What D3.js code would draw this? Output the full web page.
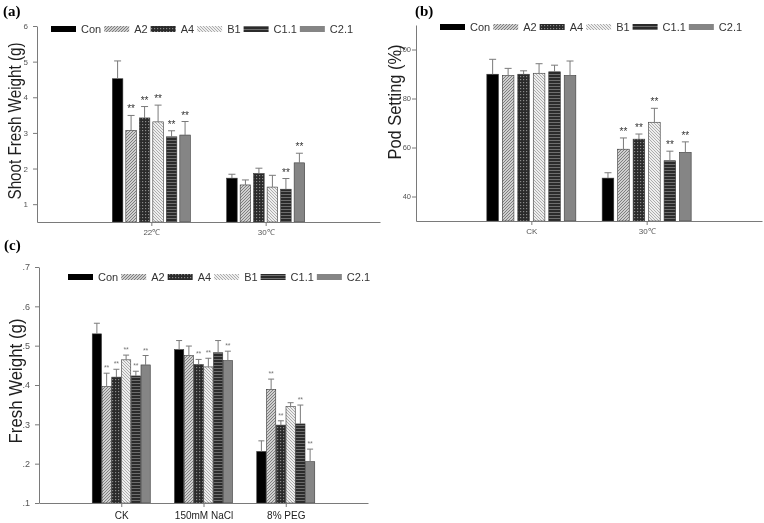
<!DOCTYPE html>
<html>
<head>
<meta charset="utf-8">
<script src="https://cdn.jsdelivr.net/npm/d3@7"></script>
<style>
body { margin: 0; background: #fff; }
svg { display: block; font-family: "Liberation Sans", Arial, sans-serif; will-change: transform; }
</style>
</head>
<body>
<svg id="chart" width="764" height="523"></svg>
<script>
// series shown in every panel
var seriesNames = ["Con", "A2", "A4", "B1", "C1.1", "C2.1"];

// (a) shoot fresh weight
var shootGroups = ["22\u2103", "30\u2103"];
var shootMean = [[4.52, 3.07, 3.42, 3.31, 2.89, 2.94], [1.73, 1.54, 1.86, 1.48, 1.42, 2.16]];
var shootErr = [[0.50, 0.42, 0.32, 0.47, 0.17, 0.38], [0.11, 0.14, 0.15, 0.33, 0.30, 0.27]];
var shootSig = [[0, 1, 1, 1, 1, 1], [0, 0, 0, 0, 1, 1]];
var shootTicks = [1, 2, 3, 4, 5, 6];

// (b) pod setting
var podGroups = ["CK", "30\u2103"];
var podMean = [[89.9, 89.4, 89.9, 90.3, 90.9, 89.4], [47.5, 59.3, 63.4, 70.3, 54.6, 58.0]];
var podErr = [[6.1, 2.9, 1.4, 3.9, 2.7, 5.9], [2.2, 4.6, 2.1, 5.7, 3.9, 4.3]];
var podSig = [[0, 0, 0, 0, 0, 0], [0, 1, 1, 1, 1, 1]];
var podTicks = [40, 60, 80, 100];

// (c) fresh weight
var freshGroups = ["CK", "150mM NaCl", "8% PEG"];
var freshMean = [[0.530, 0.396, 0.420, 0.464, 0.423, 0.451],
                 [0.490, 0.475, 0.452, 0.446, 0.482, 0.462],
                 [0.231, 0.389, 0.298, 0.345, 0.301, 0.205]];
var freshErr = [[0.027, 0.034, 0.020, 0.012, 0.012, 0.024],
                [0.023, 0.024, 0.013, 0.022, 0.031, 0.024],
                [0.027, 0.026, 0.011, 0.010, 0.048, 0.032]];
var freshSig = [[0, 1, 1, 1, 1, 1], [0, 0, 1, 1, 0, 1], [0, 1, 1, 0, 1, 1]];
var freshTicks = [0.1, 0.2, 0.3, 0.4, 0.5, 0.6, 0.7];

var svg = d3.select("#chart");
var defs = svg.append("defs");

function addPattern(id, w, h, bg, draw)
{
    var p = defs.append("pattern")
        .attr("id", id)
        .attr("patternUnits", "userSpaceOnUse")
        .attr("width", w)
        .attr("height", h);
    p.append("rect").attr("width", w).attr("height", h).attr("fill", bg);
    draw(p);
}

addPattern("patA2", 3, 3, "#cfcfcf", function(p) {
    p.append("path").attr("d", "M-1,1 l2,-2 M0,3 l3,-3 M2,4 l2,-2")
        .attr("stroke", "#6a6a6a").attr("stroke-width", 0.8);
});
addPattern("patA4", 3, 3, "#2a2a2a", function(p) {
    p.append("rect").attr("x", 1).attr("y", 1).attr("width", 1.2).attr("height", 1.2).attr("fill", "#8a8a8a");
});
addPattern("patB1", 3, 3, "#eeeeee", function(p) {
    p.append("path").attr("d", "M-1,2 l2,2 M0,0 l3,3 M2,-1 l2,2")
        .attr("stroke", "#9a9a9a").attr("stroke-width", 0.8);
});
addPattern("patC1", 3, 3, "#2b2b2b", function(p) {
    p.append("rect").attr("y", 2).attr("width", 3).attr("height", 1).attr("fill", "#6e6e6e");
});

var fills = ["#000", "url(#patA2)", "url(#patA4)", "url(#patB1)", "url(#patC1)", "#858585"];

function drawPanel(cfg)
{
    var g = svg.append("g");

    var x = d3.scalePoint().domain(cfg.groups).range(cfg.xRange).padding(1);
    var inner = d3.scaleBand().domain(seriesNames)
        .range([-cfg.groupWidth / 2, cfg.groupWidth / 2])
        .paddingInner(cfg.barPad);
    var y = d3.scaleLinear().domain(cfg.yDomain).range(cfg.yRange);

    var rows = [];
    cfg.groups.forEach(function(grp, gi) {
        seriesNames.forEach(function(s, si) {
            rows.push({grp: grp, s: s, si: si, v: cfg.mean[gi][si], e: cfg.err[gi][si], sig: cfg.sig[gi][si]});
        });
    });

    // bars
    g.selectAll("rect.bar")
        .data(rows)
        .enter().append("rect")
        .attr("class", "bar")
        .attr("x", function(d) { return x(d.grp) + inner(d.s); })
        .attr("width", inner.bandwidth())
        .attr("y", function(d) { return y(d.v); })
        .attr("height", function(d) { return y(cfg.yDomain[0]) - y(d.v); })
        .attr("fill", function(d) { return fills[d.si]; })
        .attr("stroke", "#3a3a3a")
        .attr("stroke-width", 0.6);

    // error bars (upper half only)
    var eb = g.selectAll("g.err").data(rows).enter().append("g").attr("class", "err")
        .attr("stroke", "#7a7a7a").attr("stroke-width", 1);
    eb.append("line")
        .attr("x1", function(d) { return x(d.grp) + inner(d.s) + inner.bandwidth() / 2; })
        .attr("x2", function(d) { return x(d.grp) + inner(d.s) + inner.bandwidth() / 2; })
        .attr("y1", function(d) { return y(d.v); })
        .attr("y2", function(d) { return y(d.v + d.e); });
    eb.append("line")
        .attr("x1", function(d) { return x(d.grp) + inner(d.s) + inner.bandwidth() / 2 - cfg.cap; })
        .attr("x2", function(d) { return x(d.grp) + inner(d.s) + inner.bandwidth() / 2 + cfg.cap; })
        .attr("y1", function(d) { return y(d.v + d.e); })
        .attr("y2", function(d) { return y(d.v + d.e); });

    // significance marks
    g.selectAll("text.sig")
        .data(rows.filter(function(d) { return d.sig; }))
        .enter().append("text")
        .attr("class", "sig")
        .attr("x", function(d) { return x(d.grp) + inner(d.s) + inner.bandwidth() / 2; })
        .attr("y", function(d) { return y(d.v + d.e) - cfg.sigGap; })
        .attr("text-anchor", "middle")
        .style("font-size", cfg.sigSize + "px")
        .style("fill", cfg.sigColor)
        .text("**");

    // axes
    var yAxis = g.append("g")
        .attr("transform", "translate(" + cfg.xRange[0] + ",0)")
        .call(d3.axisLeft(y).tickValues(cfg.ticks).tickFormat(cfg.fmt).tickSize(4).tickSizeOuter(0).tickPadding(cfg.yPad));
    var xAxis = g.append("g")
        .attr("transform", "translate(0," + cfg.yRange[0] + ")")
        .call(d3.axisBottom(x).tickSize(4).tickSizeOuter(0).tickPadding(cfg.xPad));
    [yAxis, xAxis].forEach(function(a) {
        a.selectAll("path, line").attr("stroke", "#7a7a7a");
    });
    yAxis.selectAll("text").style("font-size", cfg.yTickSize + "px").style("fill", "#555");
    xAxis.selectAll("text").style("font-size", cfg.xTickSize + "px").style("fill", cfg.xTickColor);

    // axis title
    g.append("text")
        .attr("transform", "translate(" + cfg.titleX + "," + cfg.titleY + ") rotate(-90)")
        .attr("text-anchor", "middle")
        .attr("textLength", cfg.titleLen)
        .attr("lengthAdjust", "spacingAndGlyphs")
        .style("font-size", "18px")
        .style("fill", "#1e1e1e")
        .text(cfg.title);

    // panel letter
    g.append("text")
        .attr("x", cfg.letterX)
        .attr("y", cfg.letterY)
        .style("font-family", "'Liberation Serif', 'Times New Roman', serif")
        .style("font-weight", "bold")
        .style("font-size", "15px")
        .text(cfg.letter);

    // legend
    var lx = cfg.legendX;
    seriesNames.forEach(function(s, si) {
        g.append("rect")
            .attr("x", lx).attr("y", cfg.legendY - 3)
            .attr("width", 25).attr("height", 6)
            .attr("fill", fills[si]);
        var t = g.append("text")
            .attr("x", lx + 30).attr("y", cfg.legendY + 4)
            .style("font-size", "11px")
            .style("fill", "#333")
            .text(s);
        lx += 30 + t.node().getComputedTextLength() + 3;
    });
}

drawPanel({
    groups: shootGroups, mean: shootMean, err: shootErr, sig: shootSig,
    xRange: [37, 380], yDomain: [0.5, 6], yRange: [222, 26],
    groupWidth: 78, barPad: 0.22, cap: 3.5,
    ticks: shootTicks, fmt: d3.format("d"), yTickSize: 8, yPad: 5, xTickSize: 8, xTickColor: "#555", xPad: 3,
    sigGap: 3, sigSize: 10, sigColor: "#333",
    title: "Shoot Fresh Weight (g)", titleX: 21, titleY: 121, titleLen: 157,
    letter: "(a)", letterX: 3, letterY: 16,
    legendX: 51, legendY: 29
});

drawPanel({
    groups: podGroups, mean: podMean, err: podErr, sig: podSig,
    xRange: [416, 762], yDomain: [30, 110], yRange: [221, 25],
    groupWidth: 89, barPad: 0.25, cap: 3.5,
    ticks: podTicks, fmt: d3.format("d"), yTickSize: 7.5, yPad: 1, xTickSize: 8, xTickColor: "#555", xPad: 3,
    sigGap: 3, sigSize: 10, sigColor: "#333",
    title: "Pod Setting (%)", titleX: 401, titleY: 102, titleLen: 115,
    letter: "(b)", letterX: 415, letterY: 16,
    legendX: 440, legendY: 27
});

drawPanel({
    groups: freshGroups, mean: freshMean, err: freshErr, sig: freshSig,
    xRange: [39, 368], yDomain: [0.1, 0.7], yRange: [503, 267],
    groupWidth: 58, barPad: 0.05, cap: 3,
    ticks: freshTicks, fmt: function(v) { return d3.format(".1f")(v).replace(/^0/, ""); },
    yTickSize: 9, yPad: 5, xTickSize: 10, xTickColor: "#222", xPad: 5,
    sigGap: 3, sigSize: 7, sigColor: "#777",
    title: "Fresh Weight (g)", titleX: 22, titleY: 381, titleLen: 125,
    letter: "(c)", letterX: 4, letterY: 250,
    legendX: 68, legendY: 277
});
</script>
</body>
</html>
